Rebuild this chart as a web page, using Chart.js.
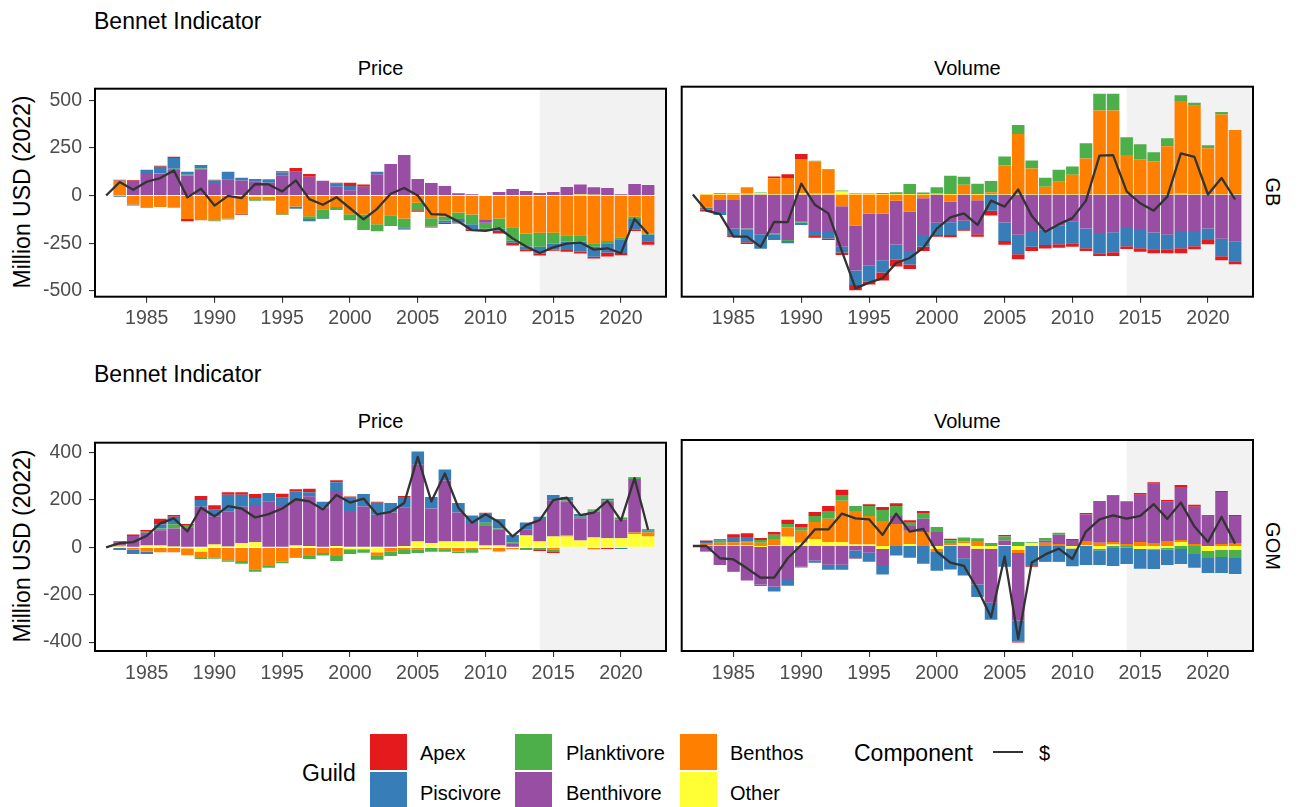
<!DOCTYPE html>
<html>
<head>
<meta charset="utf-8">
<script src="https://cdn.jsdelivr.net/npm/chart.js@4.4.1/dist/chart.umd.min.js"></script>
<style>
  html, body { margin:0; padding:0; background:#fff; }
  body { width:1299px; height:807px; position:relative; overflow:hidden;
         font-family:"Liberation Sans", Arial, Helvetica, sans-serif; color:#000; }
  canvas { position:absolute; }
  .txt { position:absolute; white-space:nowrap; line-height:1; }
  .key { position:absolute; }
</style>
</head>
<body>

<div class="txt" id="title1" style="font-size:23px;left:94px;top:10px;">Bennet Indicator</div>
<div class="txt" id="title2" style="font-size:23px;left:94px;top:363px;">Bennet Indicator</div>

<div class="txt" style="font-size:20px;left:95px;width:571px;text-align:center;top:57.5px;">Price</div>
<div class="txt" style="font-size:20px;left:681.7px;width:571.3px;text-align:center;top:57.5px;">Volume</div>
<div class="txt" style="font-size:20px;left:95px;width:571px;text-align:center;top:410.8px;">Price</div>
<div class="txt" style="font-size:20px;left:681.7px;width:571.3px;text-align:center;top:410.8px;">Volume</div>

<div class="txt" style="font-size:20px;left:1272.7px;top:191.7px;transform:translate(-50%,-50%) rotate(90deg);">GB</div>
<div class="txt" style="font-size:20px;left:1272.7px;top:545.5px;transform:translate(-50%,-50%) rotate(90deg);">GOM</div>

<div class="txt" style="font-size:23px;left:22px;top:191.7px;transform:translate(-50%,-50%) rotate(-90deg);">Million USD (2022)</div>
<div class="txt" style="font-size:23px;left:22px;top:545.5px;transform:translate(-50%,-50%) rotate(-90deg);">Million USD (2022)</div>

<canvas id="gbPriceCanvas"  width="680" height="275" style="left:0px;top:70px;width:680px;height:275px;"></canvas>
<canvas id="gbVolumeCanvas" width="590" height="275" style="left:675px;top:70px;width:590px;height:275px;"></canvas>
<canvas id="gomPriceCanvas"  width="680" height="275" style="left:0px;top:424px;width:680px;height:275px;"></canvas>
<canvas id="gomVolumeCanvas" width="590" height="275" style="left:675px;top:424px;width:590px;height:275px;"></canvas>

<div id="legend"></div>

<script>
// ---------------- DATA ----------------
const years = [1983,1984,1985,1986,1987,1988,1989,1990,1991,1992,
               1993,1994,1995,1996,1997,1998,1999,2000,2001,2002,
               2003,2004,2005,2006,2007,2008,2009,2010,2011,2012,
               2013,2014,2015,2016,2017,2018,2019,2020,2021,2022];
const lineYears = [1982,1983,1984,1985,1986,1987,1988,1989,1990,1991,1992,
               1993,1994,1995,1996,1997,1998,1999,2000,2001,2002,
               2003,2004,2005,2006,2007,2008,2009,2010,2011,2012,
               2013,2014,2015,2016,2017,2018,2019,2020,2021,2022];
const xTicks = [1985,1990,1995,2000,2005,2010,2015,2020];
const gbTicks = [-500,-250,0,250,500];
const gomTicks = [-400,-200,0,200,400];
const shadeStartYear = 2014;

const guilds = ['Apex','Piscivore','Planktivore','Benthivore','Benthos','Other'];
const guildColors = ['#E41A1C','#377EB8','#4DAF4A','#984EA3','#FF7F00','#FFFF33'];

// GB - Price
const gbPriceApex        = [0,4,0,5,7,-12,0,5,0,-4, 0,0,7,19,14,0,5,18,11,0, -4,-4,-8,-5,-7,-5,-10,0,-14,-14, -11,-9,-7,-9,-9,-9,-21,-12,-9,-18];
const gbPricePiscivore   = [-5,-6,23,35,56,16,19,18,42,14, 14,18,16,-12,-12,-4,16,21,7,14, 0,-7,5,0,-12,-18,-26,-8,-11,-11, -14,-37,-30,-44,-53,-53,-49,-72,-54,-35];
const gbPricePlanktivore = [-2,0,-5,4,7,5,4,-5,-5,-5, -4,-3,-4,0,-14,-47,-16,-32,-81,-37, -51,-46,-40,-44,-21,-35,-51,-32,-53,-70, -68,-74,-58,-33,-33,-18,-11,-11,-12,-5];
const gbPriceBenthivore  = [5,75,110,110,131,102,135,58,80,77, 72,67,102,123,96,75,44,26,37,109, 163,210,79,63,47,10,5,-18,16,32, 21,11,16,42,53,39,37,5,58,53];
const gbPriceBenthos     = [75,-47,-60,-61,-65,-123,-130,-130,-121,-93, -19,-18,-98,-58,-109,-72,-60,-98,-100,-151, -104,-121,-38,-119,-110,-89,-100,-125,-121,-167, -200,-195,-195,-209,-209,-251,-239,-219,-112,-200];
const gbPriceOther       = [2,2,2,2,2,2,2,2,2,2, -5,-7,2,2,2,2,2,2,2,2, 2,2,2,2,2,2,2,3,2,2, 2,2,2,2,5,4,2,2,2,2];
const gbPriceNet         = [0,70,30,72,91,131,-10,35,-53,-2,-14,60,58,21,79,-19,-49,-9,-67,-125,-70,9,39,0,-98,-100,-137,-182,-186,-172,-225,-268,-302,-272,-253,-247,-284,-277,-303,-123,-202];

// GB - Volume
const gbVolumeApex        = [-9,3,-5,-9,0,9,19,26,-9,-7, -12,-28,-14,-42,-35,-23,-23,-9,-11,-5, -12,-25,-19,-25,-21,-19,-19,-19,-14,-14, -19,-14,-19,-21,-21,-26,-16,-21,-21,-16];
const gbVolumePiscivore   = [-12,-21,-39,-68,-75,-30,-11,-12,-26,-39, -30,-75,-86,-63,-79,-70,-61,-63,-67,-47, 0,-84,-96,-102,-77,-82,-95,-111,-102,-105, -104,-95,-95,-86,-75,-84,-74,-60,-91,-100];
const gbVolumePlanktivore = [0,2,3,-3,3,-5,-5,-4,4,4, 5,4,2,6,10,53,7,33,95,42, 53,58,47,47,42,47,63,42,79,88, 88,93,79,46,42,30,16,16,14,-5];
const gbVolumeBenthivore  = [0,-58,-149,-177,-207,-202,-237,-142,-190,-190, -211,-232,-267,-242,-228,-205,-191,-147,-107,-137, -177,0,-146,-209,-195,-180,-163,-142,-177,-200, -196,-174,-184,-198,-209,-195,-195,-177,-230,-242];
const gbVolumeBenthos     = [-67,-28,-28,33,0,82,84,177,167,123, -61,-163,-100,-100,-32,-89,-19,0,-37,47, -30,9,147,311,132,37,63,100,184,433, 433,202,179,170,247,482,458,237,412,332];
const gbVolumeOther       = [3,2,2,4,7,2,2,7,4,4, 16,4,3,2,2,2,3,4,3,3, 3,3,3,3,3,3,3,3,3,3, 3,3,3,3,3,4,3,3,3,3];
const gbVolumeNet         = [0,-84,-102,-219,-219,-272,-142,-144,56,-53,-98,-295,-488,-458,-435,-356,-330,-277,-177,-119,-98,-158,-32,-63,26,-111,-193,-154,-123,-32,202,205,16,-46,-84,-11,214,195,0,86,-26];

// GOM - Price
const gomPriceApex        = [4,6,7,24,8,8,17,19,11,11, 17,0,17,8,14,0,8,6,0,4, 0,4,0,0,0,0,0,4,4,3, 0,-4,-4,-3,-3,0,-7,0,-3,-3];
const gomPricePiscivore   = [-11,-18,-11,17,32,0,29,28,72,51, 33,37,35,33,17,24,37,56,53,50, 40,46,56,49,47,40,35,38,36,28, 31,14,22,15,12,3,6,-7,3,6];
const gomPricePlanktivore = [0,0,4,8,17,6,-4,-6,-7,-11, -11,-7,-6,-3,-12,-10,-21,-20,-15,-19, -17,-17,-14,-19,-8,-7,-12,11,4,4, -11,-11,-10,6,6,7,8,10,4,7];
const gomPriceBenthivore  = [14,45,54,64,76,85,171,119,146,154, 154,192,174,196,210,168,232,150,172,138, 144,161,324,146,257,122,74,85,68,14, 24,90,153,142,94,108,153,78,226,0];
const gomPriceBenthos     = [4,-10,-17,-21,-21,-29,-28,-42,-54,-58, -92,-79,-61,-42,-37,-24,-37,3,0,-12, -19,-11,-10,0,-11,-17,-11,-8,-17,-8, 0,0,-10,4,0,-8,0,0,7,17];
const gomPriceOther       = [4,3,8,8,4,-4,-17,12,4,17, 21,0,0,8,6,0,6,-8,-8,-21, 3,6,25,18,25,25,25,8,8,3, 50,25,46,46,29,42,38,38,56,46];
const gomPriceNet         = [0,18,22,49,101,122,67,167,131,174,164,126,140,164,203,194,160,221,189,206,139,150,187,382,194,312,167,104,140,106,46,94,115,199,210,136,147,196,113,292,74];

// GOM - Volume
const gomVolumeApex        = [6,3,12,15,8,11,17,13,17,21, 21,-2,7,13,11,10,8,0,6,0, 0,0,6,-3,-3,-3,-3,4,7,0, 4,0,7,7,8,8,8,0,4,4];
const gomVolumePiscivore   = [8,4,21,18,-7,-21,-28,-4,-10,-21, -21,-32,-38,-36,-40,-49,-74,-78,-98,-72, -53,-71,-86,-89,-83,-63,-63,-74,-79,-61, -75,-69,-83,-81,-63,-63,-58,-63,-67,-67];
const gomVolumePlanktivore = [-3,8,-4,4,11,18,15,15,25,32, 24,21,42,46,42,14,24,21,12,15, 11,12,17,17,4,11,8,0,0,-7, -8,-6,0,-4,-8,-12,-33,-29,-29,-33];
const gomVolumeBenthivore  = [-21,-79,-104,-144,-156,-169,-138,-86,-60,-78, -78,-19,-28,-71,33,19,56,58,0,-51, -149,-225,19,-281,0,8,39,25,113,174, 192,179,197,247,163,221,156,129,217,113];
const gomVolumeBenthos     = [7,10,12,12,14,25,38,50,71,97, 172,140,119,104,92,56,58,-14,8,8, 21,0,0,-12,0,14,8,0,14,14, 11,8,17,12,21,8,8,0,8,12];
const gomVolumeOther       = [2,4,4,4,-4,4,39,14,29,17, 17,6,6,-12,0,8,0,-11,4,12, -11,-11,4,-17,12,0,0,-10,4,-11, 6,0,-12,-11,-8,17,0,-21,-17,-17];
const gomVolumeNet         = [0,0,-51,-56,-93,-132,-132,-51,4,69,69,135,115,111,46,135,60,71,-24,-69,-83,-179,-297,-44,-387,-69,-35,-11,-54,60,111,128,114,126,174,113,181,81,17,121,10];

// ---------------- STYLE ----------------
const FONT = '"Liberation Sans", Arial, Helvetica, sans-serif';
const X_MIN = 1981.18, X_MAX = 2023.32;
const lineColor = '#333333';
const tickColor = '#4D4D4D';
const shadeColor = '#F2F2F2';

const panelPlugin = {
  id: 'panelDecor',
  beforeDatasetsDraw(chart) {
    const { ctx, chartArea: a, scales } = chart;
    const xs = scales.x.getPixelForValue(shadeStartYear);
    ctx.save();
    ctx.fillStyle = shadeColor;
    ctx.fillRect(xs, a.top, a.right - xs, a.bottom - a.top);
    ctx.restore();
  },
  afterDatasetsDraw(chart) {
    const { ctx, chartArea: a } = chart;
    ctx.save();
    ctx.strokeStyle = '#000';
    ctx.lineWidth = 2;
    ctx.strokeRect(a.left, a.top, a.right - a.left, a.bottom - a.top);
    ctx.restore();
  }
};

function buildPanel(canvasId, guildSeries, net, yTicks, yMin, yMax, showY, pad) {
  const datasets = [{
    type: 'line', label: '$',
    data: lineYears.map((yr, i) => ({ x: yr, y: net[i] })),
    borderColor: lineColor, borderWidth: 2.3, pointRadius: 0, pointHoverRadius: 0,
    tension: 0, fill: false, stack: 'net', order: 0, borderJoinStyle: 'round'
  }];
  for (let k = guilds.length - 1; k >= 0; k--) {
    const arr = guildSeries[k];
    datasets.push({
      type: 'bar', label: guilds[k],
      data: years.map((yr, i) => ({ x: yr, y: arr[i] })),
      backgroundColor: guildColors[k], borderWidth: 0,
      barPercentage: 0.93, categoryPercentage: 1, stack: 'guild', order: 1
    });
  }
  const tickFont = { family: FONT, size: 19.5 };
  new Chart(document.getElementById(canvasId), {
    type: 'bar',
    data: { datasets },
    options: {
      responsive: false, animation: false, events: [],
      layout: { padding: { top: pad.top, right: pad.right, left: pad.left, bottom: 0 } },
      plugins: { legend: { display: false }, tooltip: { enabled: false } },
      scales: {
        x: {
          type: 'linear', min: X_MIN, max: X_MAX, stacked: true, offset: false,
          afterBuildTicks: s => { s.ticks = xTicks.map(v => ({ value: v })); },
          afterFit: s => { s.height = pad.xAxisH; },
          grid: { display: true, offset: false, drawOnChartArea: false, drawTicks: true,
                  tickLength: 6, color: '#333333', lineWidth: 1.1 },
          border: { display: false },
          ticks: { color: tickColor, font: tickFont, padding: 4.5, maxRotation: 0,
                   autoSkip: false, callback: v => String(v) }
        },
        y: {
          type: 'linear', min: yMin, max: yMax, stacked: true, display: showY,
          afterBuildTicks: s => { s.ticks = yTicks.map(v => ({ value: v })); },
          afterFit: s => { s.width = showY ? 95 : 0; },
          grid: { display: true, drawOnChartArea: false, drawTicks: true,
                  tickLength: 6, color: '#333333', lineWidth: 1.1 },
          border: { display: false },
          ticks: { color: tickColor, font: tickFont, padding: 7, autoSkip: false,
                   callback: v => String(v) }
        }
      }
    },
    plugins: [panelPlugin]
  });
}

const gbYMin = -531, gbYMax = 560;
const gomYMin = -437.5, gomYMax = 441.7;

buildPanel('gbPriceCanvas',
  [gbPriceApex, gbPricePiscivore, gbPricePlanktivore, gbPriceBenthivore, gbPriceBenthos, gbPriceOther],
  gbPriceNet, gbTicks, gbYMin, gbYMax, true,
  { top: 16.7, right: 14, left: 0, xAxisH: 48.3 });
buildPanel('gbVolumeCanvas',
  [gbVolumeApex, gbVolumePiscivore, gbVolumePlanktivore, gbVolumeBenthivore, gbVolumeBenthos, gbVolumeOther],
  gbVolumeNet, gbTicks, gbYMin, gbYMax, false,
  { top: 16.7, right: 12, left: 6.7, xAxisH: 48.3 });
buildPanel('gomPriceCanvas',
  [gomPriceApex, gomPricePiscivore, gomPricePlanktivore, gomPriceBenthivore, gomPriceBenthos, gomPriceOther],
  gomPriceNet, gomTicks, gomYMin, gomYMax, true,
  { top: 16, right: 14, left: 0, xAxisH: 48 });
buildPanel('gomVolumeCanvas',
  [gomVolumeApex, gomVolumePiscivore, gomVolumePlanktivore, gomVolumeBenthivore, gomVolumeBenthos, gomVolumeOther],
  gomVolumeNet, gomTicks, gomYMin, gomYMax, false,
  { top: 16, right: 12, left: 6.7, xAxisH: 48 });

// ---------------- LEGEND ----------------
(function buildLegend() {
  const lg = document.getElementById('legend');
  const add = (html) => { lg.insertAdjacentHTML('beforeend', html); };
  add('<div class="txt" style="font-size:23px;left:302px;top:762px;">Guild</div>');
  const colX = [370, 515, 680];
  const labX = [420, 566, 730];
  const rowY = [734, 772];
  const labCY = [752.7, 792.5];
  guilds.forEach((g, i) => {
    const c = Math.floor(i / 2), r = i % 2;
    add('<div class="key" style="left:' + colX[c] + 'px;top:' + rowY[r] + 'px;width:36.5px;height:35.5px;background:' + guildColors[i] + ';"></div>');
    add('<div class="txt" style="font-size:20px;left:' + labX[c] + 'px;top:' + (labCY[r] - 10) + 'px;">' + g + '</div>');
  });
  add('<div class="txt" style="font-size:23px;left:854px;top:741.5px;">Component</div>');
  add('<div class="key" style="left:992.5px;top:751.2px;width:30px;height:2.3px;background:' + lineColor + ';"></div>');
  add('<div class="txt" style="font-size:20px;left:1039px;top:743px;">$</div>');
})();
</script>
</body>
</html>
